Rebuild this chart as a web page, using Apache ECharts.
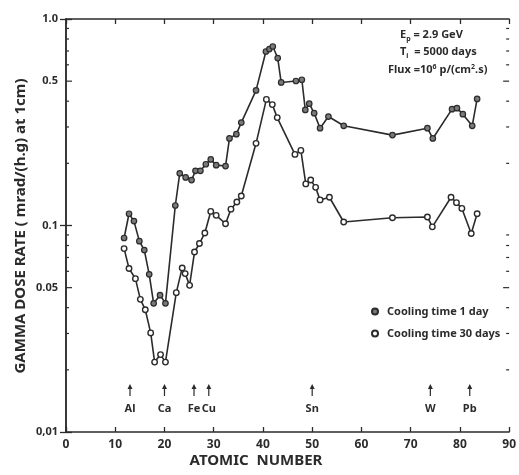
<!DOCTYPE html>
<html>
<head>
<meta charset="UTF-8">
<title>Gamma dose rate</title>
<script src="https://cdn.jsdelivr.net/npm/echarts@6/dist/echarts.min.js"></script>
<style>
  html, body { margin: 0; padding: 0; background: #fff; }
  #main { width: 519px; height: 475px; }
</style>
</head>
<body>
<div id="main"></div>
<script>
// cooling time 1 day (filled dots)
var z1 = [11.8,12.8,13.8,14.9,15.9,16.9,17.8,19.1,20.2,22.2,23.1,24.3,25.5,26.3,27.3,28.4,29.4,30.5,32.4,33.2,
          34.6,35.6,38.6,40.6,41.3,42.0,43.0,43.7,46.7,47.9,48.6,49.4,50.4,51.6,53.3,56.4,66.3,73.4,74.5,78.4,
          79.4,80.6,82.5,83.5];
var day1 = [0.087,0.114,0.105,0.084,0.076,0.058,0.042,0.046,0.042,0.125,0.179,0.171,0.166,0.184,0.184,0.198,0.209,0.196,0.194,0.264,
            0.277,0.315,0.451,0.696,0.715,0.736,0.647,0.493,0.501,0.508,0.363,0.389,0.350,0.296,0.337,0.304,0.274,0.296,0.264,0.366,
            0.370,0.346,0.304,0.410];
// cooling time 30 days (open dots)
var z30 = [11.8,12.8,14.1,15.1,16.1,17.2,18.0,19.2,20.2,22.4,23.6,24.2,25.1,26.1,27.1,28.2,29.4,30.5,32.4,33.5,
           34.7,35.6,38.6,40.7,41.9,42.9,46.5,47.7,48.7,49.7,50.7,51.6,53.5,56.4,66.3,73.4,74.4,78.2,79.3,80.4,
           82.3,83.5];
var day30 = [0.0773,0.0619,0.0553,0.0439,0.0391,0.0302,0.0218,0.0237,0.0218,0.0473,0.0623,0.0585,0.0513,0.0744,0.0818,0.092,0.117,0.112,0.102,0.120,
             0.130,0.139,0.250,0.408,0.385,0.333,0.221,0.231,0.159,0.166,0.153,0.133,0.137,0.104,0.109,0.110,0.0985,0.137,0.129,0.121,
             0.0914,0.114];
// marked elements
var elemNames = ['Al','Ca','Fe','Cu','Sn','W','Pb'];
var elemZ = [13,20,26,29,50,74,82];
// axis ticks
var yLabelVals = [0.05,0.5];          // labelled ticks between decades
var yLabelText = ['0.05','0.5'];
var yMinorVals = [0.02,0.03,0.04,0.06,0.07,0.08,0.09,0.2,0.3,0.4,0.6,0.7,0.8,0.9];

var FONT = 'Noto Sans';
var INK = '#2b2b2b';

function pairs(xs, ys) {
    return xs.map(function (x, i) { return [x, ys[i]]; });
}

var chart = echarts.init(document.getElementById('main'));
var logAxis = {
    type: 'log', logBase: 10, min: 0.01, max: 1,
    axisLine: { show: true, lineStyle: { color: INK, width: 1.5 } },
    axisTick: { show: true, inside: true, length: 6, lineStyle: { color: INK, width: 1.3 } },
    splitLine: { show: false }
};
var option = {
    animation: false,
    textStyle: { fontFamily: FONT },
    grid: { left: 66, right: 6, top: 19, bottom: 43 },
    xAxis: [{
        type: 'value', min: 0, max: 90, interval: 10, position: 'bottom',
        axisLine: { lineStyle: { color: INK, width: 1.5 } },
        axisTick: { inside: true, length: 5, lineStyle: { color: INK, width: 1.3 } },
        axisLabel: { color: INK, fontSize: 12, fontWeight: 'bold', margin: 7 },
        splitLine: { show: false }
    }, {
        type: 'value', min: 0, max: 90, interval: 10, position: 'top',
        axisLine: { lineStyle: { color: INK, width: 1.5 } },
        axisTick: { inside: true, length: 5, lineStyle: { color: INK, width: 1.3 } },
        axisLabel: { show: false },
        splitLine: { show: false }
    }],
    yAxis: [
        Object.assign({}, logAxis, {
            position: 'left',
            axisLabel: {
                color: INK, fontSize: 11, fontWeight: 'bold', margin: 8,
                formatter: function (v) {
                    if (v < 0.011) return '0,01';
                    if (v < 0.11) return '0.1';
                    return '1.0';
                }
            }
        }),
        Object.assign({}, logAxis, { position: 'right', axisLabel: { show: false } })
    ],
    legend: {
        orient: 'vertical', left: 366, top: 301,
        itemWidth: 6, itemHeight: 6, itemGap: 11,
        icon: 'circle',
        textStyle: { color: INK, fontSize: 11, fontWeight: 'bold', padding: [0, 0, 0, 4] },
        data: ['Cooling time 1 day', 'Cooling time 30 days']
    },
    series: [{
        name: 'Cooling time 1 day', type: 'line',
        data: pairs(z1, day1),
        symbol: 'circle', symbolSize: 5.5, showSymbol: true,
        lineStyle: { color: INK, width: 1.6 },
        itemStyle: { color: '#7a7a7a', borderColor: INK, borderWidth: 1.2 }
    }, {
        name: 'Cooling time 30 days', type: 'line',
        data: pairs(z30, day30),
        symbol: 'circle', symbolSize: 5.5, showSymbol: true,
        lineStyle: { color: INK, width: 1.6 },
        itemStyle: { color: '#ffffff', borderColor: INK, borderWidth: 1.4 }
    }]
};
chart.setOption(option);

// extra ticks, labels and annotations placed through the axes
function tick(x1, y1, x2, y2) {
    return { type: 'line', silent: true, shape: { x1: x1, y1: y1, x2: x2, y2: y2 },
             style: { stroke: INK, lineWidth: 1.2 } };
}
function text(x, y, str, opts) {
    return { type: 'text', silent: true, x: x, y: y,
             style: Object.assign({ text: str, fill: INK, font: 'bold 11px "' + FONT + '"',
                                    align: 'left', verticalAlign: 'middle' }, opts || {}) };
}
var left = chart.convertToPixel({ xAxisIndex: 0 }, 0);
var right = chart.convertToPixel({ xAxisIndex: 0 }, 90);
var g = [];
yMinorVals.forEach(function (v) {
    var p = chart.convertToPixel({ yAxisIndex: 0 }, v);
    g.push(tick(left, p, left + 3, p));
    g.push(tick(right - 3, p, right, p));
});
yLabelVals.forEach(function (v, i) {
    var p = chart.convertToPixel({ yAxisIndex: 0 }, v);
    g.push(tick(left, p, left + 6, p));
    g.push(tick(right - 6, p, right, p));
    g.push(text(left - 8, p, yLabelText[i], { align: 'right' }));
});
elemNames.forEach(function (name, i) {
    var px = chart.convertToPixel({ xAxisIndex: 0 }, elemZ[i]);
    g.push({ type: 'polygon', silent: true, shape: { points: [[px, 384], [px - 2.5, 389], [px + 2.5, 389]] },
             style: { fill: INK } });
    g.push(tick(px, 386, px, 396));
    g.push(text(px, 409, name, { align: 'center' }));
});
// axis titles
g.push(text(256, 461, 'ATOMIC  NUMBER', { align: 'center', font: 'bold 15px "' + FONT + '"' }));
g.push({ type: 'text', silent: true, x: 21, y: 226, rotation: Math.PI / 2,
         style: { text: 'GAMMA DOSE RATE ( mrad/(h.g) at 1cm)', fill: INK,
                  font: 'bold 15px "' + FONT + '"', align: 'center', verticalAlign: 'middle' } });
// run conditions
var rich = {
    n: { fontSize: 11, fontWeight: 'bold', fontFamily: FONT, fill: INK },
    sub: { fontSize: 7, fontWeight: 'bold', fontFamily: FONT, fill: INK, padding: [7, 0, 0, 0] },
    sup: { fontSize: 7, fontWeight: 'bold', fontFamily: FONT, fill: INK, padding: [0, 0, 7, 0] }
};
g.push(text(400, 35, '{n|E}{sub|p}{n| = 2.9 GeV}', { rich: rich }));
g.push(text(400, 52, '{n|T}{sub|i}{n|  = 5000 days}', { rich: rich }));
g.push(text(388, 70, '{n|Flux =10}{sup|6}{n| p/(cm}{sup|2}{n|.s)}', { rich: rich }));
chart.setOption({ graphic: g });
</script>
</body>
</html>
